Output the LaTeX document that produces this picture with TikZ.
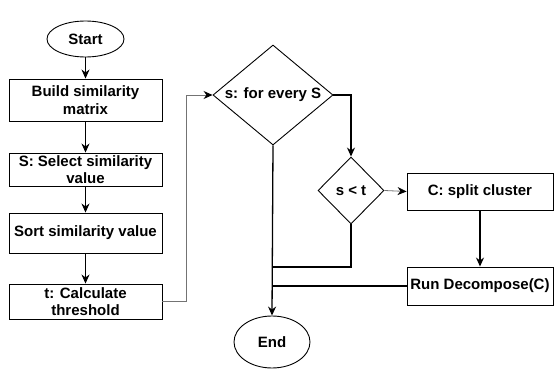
\documentclass[tikz,border=0pt]{standalone}
\usepackage{fontspec}
\setmainfont{Liberation Sans}
\usetikzlibrary{shapes.geometric,arrows.meta}
\begin{document}
\begin{tikzpicture}[x=1pt,y=-1pt,
  every node/.style={font=\fontsize{15}{17.5}\selectfont\bfseries, align=center, inner sep=0pt},
  shp/.style={draw=black, line width=0.9pt},
  pbox/.style={shp, rectangle, minimum width=153pt},
  rbox/.style={shp, rectangle, minimum width=146pt},
  oval/.style={shp, ellipse},
  dia/.style={shp, diamond, aspect=1.2, inner xsep=-4pt},
  conn/.style={line width=1.3pt, black, -{Stealth[length=9pt,width=8pt]}},
  thin/.style={line width=0.8pt, black!55, -{Stealth[length=9pt,width=8pt,color=black]}},
  plain/.style={line width=1.3pt, black}]
\useasboundingbox (0,0) rectangle (555,369);
\node[oval, minimum width=77pt, minimum height=36pt] (start) at (85.5,39) {Start};
\node[pbox, minimum height=42pt] (b1) at (85.5,100) {Build similarity\\matrix};
\node[pbox, minimum height=33pt] (b2) at (85.5,169.5) {S: Select similarity\\value};
\node[pbox, minimum height=40pt] (b3) at (85.5,233) {Sort similarity value};
\node[pbox, minimum height=35pt] (b4) at (85.5,301.5) {t: Calculate\\threshold};
\node[dia, minimum width=120pt, minimum height=100pt] (d1) at (273,95) {s: for every S};
\node[dia, minimum width=66pt, minimum height=67pt] (d2) at (351,190.5) {s < t};
\node[rbox, minimum height=37pt] (bc) at (480,191.5) {C: split cluster};
\node[rbox, minimum height=38pt] (br) at (480,286) {Run Decompose(C)};
\node[oval, minimum width=76pt, minimum height=52pt] (end) at (272,342) {End};
\coordinate (j1) at (273,267);
\coordinate (j2) at (273,286);
\draw[conn] (start) -- (b1);
\draw[conn] (b1) -- (b2);
\draw[conn] (b2) -- (b3);
\draw[conn] (b3) -- (b4);
\draw[thin] (b4.east) -- (186,301.5) |- (d1.west);
\draw[conn] (d1.east) -| (d2.north);
\draw[thin] (d2.east) -- (bc.west);
\draw[conn] (bc.south) -- (br.north);
\draw[plain] (d2.south) |- (j1);
\draw[plain] (br.west) -- (j2);
\draw[conn] (d1.south) -- (end.north);
\end{tikzpicture}
\end{document}
